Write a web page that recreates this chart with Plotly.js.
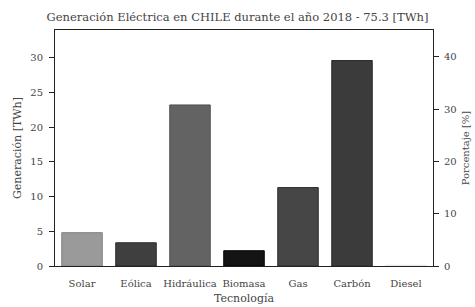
<!DOCTYPE html>
<html><head><meta charset="utf-8">
<script src="https://cdn.plot.ly/plotly-3.0.1.min.js"></script>
<style>body{margin:0;background:#fff}#c{width:475px;height:307px}</style>
</head><body><div id="c"></div>
<script>
const categories = ["Solar","Eólica","Hidráulica","Biomasa","Gas","Carbón","Diesel"];
const generation = [4.8, 3.35, 23.2, 2.2, 11.3, 29.6, 0.1];
const total = 75.3;
const barColors = ["#9a9a9a","#3f3f3f","#636363","#141414","#464646","#3b3b3b","#f4f4f4"];
const lineColors = ["#808080","#2a2a2a","#505050","#000000","#2e2e2e","#2a2a2a","#e4e4e4"];
const percent = generation.map(v => v / total * 100);
const F = "DejaVu Serif, serif";
const TC = "#444444";
const traces = [
  {type:"bar", x:categories, y:generation, marker:{color:barColors, line:{color:lineColors, width:1}}, hoverinfo:"none"},
  {type:"bar", x:categories, y:percent, yaxis:"y2", marker:{color:"rgba(0,0,0,0)"}, hoverinfo:"none"}
];
const layout = {
  width:475, height:307,
  margin:{l:55, r:42, t:29.5, b:41},
  paper_bgcolor:"#fff", plot_bgcolor:"#fff",
  showlegend:false, barmode:"overlay", bargap:0.25,
  font:{family:F, size:10, color:TC},
  title:{text:"Generación Eléctrica en CHILE durante el año 2018 - 75.3 [TWh]", x:0.5, xanchor:"center", y:0.945, yanchor:"middle", font:{family:F, size:11.5, color:TC}},
  xaxis:{showline:true, linecolor:"#222", linewidth:1, mirror:true, ticks:"", showgrid:false, zeroline:false,
    ticklabelstandoff:8,
    tickfont:{family:F, size:10, color:TC},
    title:{text:"Tecnología", font:{family:F, size:11, color:TC}, standoff:6}},
  yaxis:{range:[0,34], tickvals:[0,5,10,15,20,25,30], showline:true, linecolor:"#222", linewidth:1, ticks:"outside", ticklen:5, tickcolor:"#222", showgrid:false, zeroline:false,
    ticklabelstandoff:4,
    tickfont:{family:F, size:10, color:TC},
    title:{text:"Generación [TWh]", font:{family:F, size:11, color:TC}, standoff:6}},
  yaxis2:{overlaying:"y", side:"right", range:[0, 34/total*100], tickvals:[0,10,20,30,40], showline:true, linecolor:"#222", linewidth:1, ticks:"outside", ticklen:5, tickcolor:"#222", showgrid:false, zeroline:false,
    ticklabelstandoff:3,
    tickfont:{family:F, size:10, color:TC},
    title:{text:"Porcentaje [%]", font:{family:F, size:10, color:TC}, standoff:6}}
};
Plotly.newPlot("c", traces, layout, {displayModeBar:false, staticPlot:true});
</script></body></html>
